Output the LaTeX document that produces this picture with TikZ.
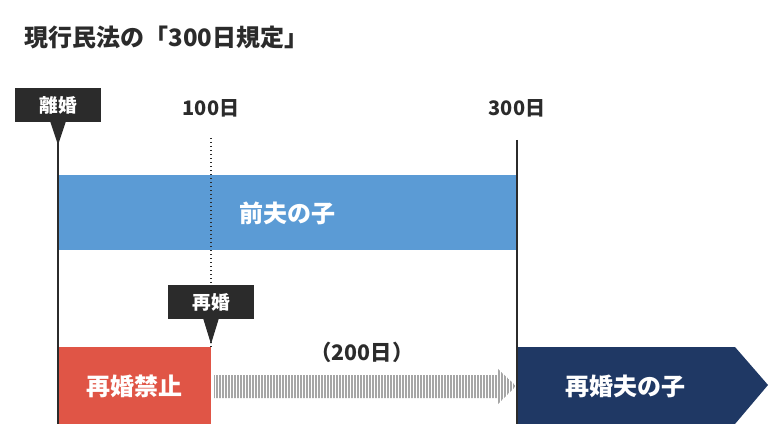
\documentclass[tikz,border=0pt]{standalone}
\usepackage{fontspec}
\setmainfont{Noto Sans CJK JP}
\usetikzlibrary{shapes.geometric}
\definecolor{dk}{HTML}{2B2B2B}
\definecolor{blu}{HTML}{5B9BD5}
\definecolor{rd}{HTML}{E05546}
\definecolor{nv}{HTML}{1F3864}
\tikzset{
 callout/.style={fill=dk,text=white,font=\bfseries\fontsize{14}{16}\selectfont,minimum width=64pt,minimum height=26pt,inner sep=0},
 lbl/.style={text=dk,font=\bfseries\fontsize{15}{17}\selectfont},
 bar/.style={text=white,font=\bfseries\fontsize{18}{20}\selectfont,inner sep=0},
 vline/.style={draw=dk,line width=1.5pt}
}
\begin{document}
\begin{tikzpicture}[x=0.75pt,y=-0.75pt]
\useasboundingbox (0,0) rectangle (770,424);
\node[anchor=west,text=dk,font=\bfseries\fontsize{18}{20}\selectfont] (title) at (20,37) {現行民法の「300日規定」};
% bars
\fill[blu] (58,175) rectangle (517,250);
\node[bar] (zen) at (287,213) {前夫の子};
\fill[rd] (58,347) rectangle (211,424);
\node[bar] (kin) at (134,386) {再婚禁止};
\fill[nv] (517,347) -- (735,347) -- (768,385) -- (735,424) -- (517,424) -- cycle;
\node[bar] (sai) at (625,386) {再婚夫の子};
% lines
\draw[vline] (58,120) -- (58,424);
\draw[vline] (517,140) -- (517,424);
\draw[dk,dotted,line width=1pt] (211,138) -- (211,347);
% labels
\node[lbl] (l100) at (211,108) {100日};
\node[lbl] (l300) at (517,108) {300日};
\node[callout] (rikon) at (58,105) {離婚};
\fill[dk] (50,121) -- (66,121) -- (58,145) -- cycle;
\node[callout] (saikon) at (211,302) {再婚};
\fill[dk] (203,318) -- (219,318) -- (211,344) -- cycle;
\node[lbl,font=\bfseries\fontsize{16}{18}\selectfont] (d200) at (362,352) {（200日）};
% striped arrow
\begin{scope}
\clip (214,375) -- (497,375) -- (497,368) -- (516,386) -- (497,405) -- (497,398) -- (214,398) -- cycle;
\foreach \x in {214,217,...,516} \draw[gray!70,line width=0.9pt] (\x,360) -- (\x,410);
\end{scope}
\end{tikzpicture}
\end{document}
